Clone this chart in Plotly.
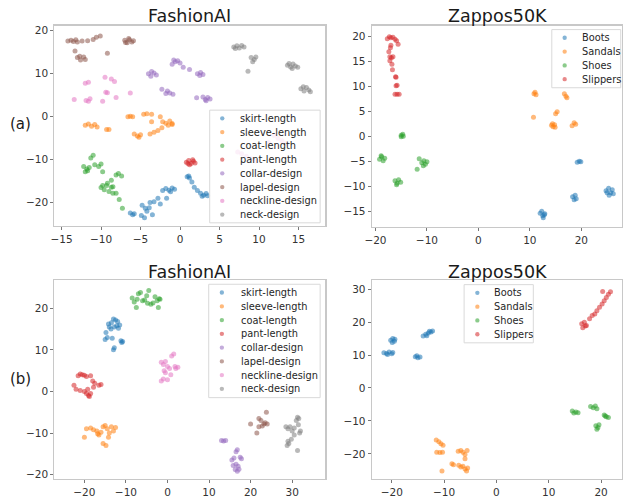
import plotly.graph_objects as go

# ---------------- data ----------------
FASHION_CLASSES = ["skirt-length", "sleeve-length", "coat-length", "pant-length",
                   "collar-design", "lapel-design", "neckline-design", "neck-design"]
ZAPPOS_CLASSES = ["Boots", "Sandals", "Shoes", "Slippers"]

# (a) FashionAI
A_SKIRT = [(-6.3,-22.4),(-6.0,-22.8),(-5.8,-22.6),(-4.8,-20.6),(-4.5,-23.5),(-4.2,-22.0),(-3.9,-21.2),
           (-3.5,-22.8),(-3.8,-20.0),(-3.3,-19.8),(-2.8,-19.0),(-2.5,-20.3),(-2.2,-17.2),(-1.8,-16.7),
           (-1.4,-17.1),(-1.0,-16.6),(-0.7,-16.9),(-1.2,-17.5),(-1.7,-19.0),(-4.9,-23.0),(-4.4,-21.3),
           (0.9,-14.0),(1.2,-14.3),(1.1,-13.8),(1.5,-15.2),(1.8,-16.4),(2.2,-17.2),(2.6,-17.8),
           (3.0,-18.3),(3.3,-17.9),(2.8,-18.5),(3.5,-18.4)]
A_SLEEVE = [(-12.0,-2.0),(-11.6,-1.7),(-11.2,-2.2),(-10.8,-1.8),(-10.5,-2.4),(-9.3,-3.0),(-9.0,-3.0),
            (-6.6,0.0),(-6.3,0.1),(-6.0,0.0),(-4.6,0.6),(-4.2,0.7),(-3.6,0.6),(-2.5,0.0),(-3.6,-1.2),
            (-2.2,-1.2),(-1.8,-1.5),(-1.3,-1.0),(-1.0,-1.8),(-1.5,-2.0),(-5.8,-4.0),(-5.4,-4.5),
            (-5.0,-4.2),(-5.2,-4.8),(-3.8,-4.0),(-3.3,-3.6),(-2.8,-3.2),(-2.3,-2.6),(-1.0,-1.6)]
A_COAT = [(-11.0,-9.0),(-11.3,-9.6),(-12.2,-11.6),(-11.8,-12.2),(-12.0,-12.8),(-11.5,-11.8),(-11.7,-12.6),
          (-10.8,-11.2),(-10.3,-11.6),(-10.0,-11.0),(-9.8,-12.8),(-10.0,-16.5),(-9.6,-17.0),(-9.3,-16.0),
          (-9.0,-17.4),(-8.7,-16.4),(-9.8,-16.0),(-8.5,-17.8),(-9.2,-15.5),(-8.7,-14.8),(-8.1,-13.6),
          (-7.8,-13.2),(-7.4,-13.8),(-8.5,-16.3),(-8.1,-17.8),(-7.7,-19.3),(-7.3,-21.3)]
A_PANT = [(0.8,-10.6),(1.1,-10.2),(1.4,-10.9),(1.7,-10.4),(1.2,-11.2),(1.6,-10.0),(1.9,-10.8),(1.0,-10.9)]
A_COLLAR = [(-1.0,12.2),(-0.6,12.8),(-0.3,13.0),(0.0,12.5),(-0.8,13.2),(0.4,11.5),(1.2,11.0),
            (2.2,10.0),(2.6,10.3),(2.9,9.8),(2.5,9.6),(-4.0,10.0),(-3.7,9.4),(-3.3,10.2),(-3.0,9.7),
            (-3.6,10.5),(-2.3,6.4),(-1.6,6.0),(-1.3,5.5),(-0.9,5.2),(-1.8,5.4),(2.1,4.4),(2.9,4.6),
            (3.2,4.0),(3.5,4.5),(3.8,4.1),(3.3,3.7)]
A_LAPEL = [(-14.2,17.6),(-13.8,17.8),(-13.5,17.5),(-13.2,17.9),(-13.0,17.4),(-12.4,17.6),(-11.7,17.7),
           (-10.6,18.5),(-10.1,18.8),(-11.0,18.0),(-13.3,15.3),(-13.0,13.8),(-12.6,13.2),(-12.2,13.9),
           (-12.0,13.3),(-12.7,14.1),(-9.2,14.8),(-7.0,17.8),(-6.7,17.2),(-6.4,17.9),(-6.1,17.4),
           (-5.9,17.7),(-6.5,18.2),(-6.9,17.3)]
A_NECKLINE = [(-12.0,7.8),(-11.6,8.0),(-9.5,9.2),(-8.7,8.8),(-8.3,8.2),(-9.4,5.7),(-9.2,5.6),(-13.4,4.0),
              (-11.9,3.8),(-11.4,4.2),(-11.6,3.6),(-9.8,3.6),(-8.1,4.5),(-6.3,5.5),
              (7.3,-8.2),(7.8,-8.6),(8.4,-9.2),(9.0,-9.8),(9.6,-10.3),(11.9,-4.4),(12.4,-5.0),
              (12.9,-5.6),(13.4,-6.3),(11.2,-6.0)]
A_NECK = [(6.8,16.2),(7.2,16.5),(7.5,16.0),(7.8,16.6),(8.1,16.2),(7.0,15.9),(9.0,13.8),(9.4,13.3),
          (9.6,13.9),(9.2,12.8),(8.6,10.6),(13.6,12.0),(14.0,11.6),(14.3,12.3),(14.6,11.8),(14.9,11.5),
          (14.2,11.2),(13.8,12.4),(15.3,6.5),(15.7,6.0),(16.0,6.8),(16.3,6.2),(15.6,7.0),(16.5,5.8)]

# (a) Zappos50K
B_BOOTS = [(19.2,-5.1),(19.6,-4.9),(19.9,-5.0),(18.3,-12.0),(18.8,-11.7),(19.0,-12.4),(18.6,-12.6),
           (24.8,-10.8),(25.3,-10.3),(25.7,-11.2),(26.0,-10.6),(25.4,-11.7),(26.2,-11.4),(25.0,-11.2),
           (12.0,-15.3),(12.5,-15.8),(12.9,-15.4),(12.6,-16.2),(12.3,-14.9),(12.8,-15.6)]
B_SANDALS = [(10.8,8.6),(11.2,8.4),(11.0,8.9),(10.7,3.9),(16.7,8.6),(17.0,8.1),(17.2,7.8),(15.0,4.6),
             (15.3,5.0),(14.2,2.3),(14.5,2.0),(14.8,2.4),(14.9,1.9),(14.4,2.6),(18.2,2.2),(18.6,2.8),(18.9,2.5)]
B_SHOES = [(-15.0,0.3),(-14.7,0.5),(-14.6,0.1),(-15.0,0.0),(-19.2,-4.5),(-18.8,-4.0),(-18.5,-4.8),
           (-18.2,-4.3),(-18.9,-3.8),(-11.0,-5.2),(-10.6,-4.8),(-10.3,-5.5),(-10.0,-5.0),(-10.7,-5.8),
           (-11.9,-6.5),(-11.5,-4.4),(-16.2,-8.8),(-15.8,-9.3),(-15.5,-8.6),(-15.9,-9.6),(-15.1,-9.1)]
B_SLIPPERS = [(-17.7,19.6),(-17.3,20.0),(-17.0,19.8),(-16.6,19.9),(-16.2,19.5),(-15.9,19.2),(-15.6,18.5),
              (-17.0,18.3),(-17.1,17.8),(-17.2,16.0),(-16.9,15.8),(-16.6,16.0),(-16.8,14.5),(-16.7,13.4),
              (-16.1,12.0),(-16.0,11.9),(-16.0,10.2),(-15.8,10.3),(-16.2,8.5),(-15.8,8.5),(-15.4,8.5),
              (-17.4,17.0),(-17.2,15.2)]

# (b) FashionAI
C_SKIRT = [(-15.0,12.5),(-14.5,13.0),(-14.8,14.2),(-14.0,15.5),(-13.5,16.5),(-13.0,17.4),(-12.5,17.2),
           (-12.0,16.8),(-11.5,16.0),(-11.8,15.2),(-12.8,15.5),(-13.6,15.0),(-14.2,16.2),(-12.2,15.8),
           (-13.3,12.8),(-11.2,12.2),(-10.8,12.0),(-11.0,11.8),(-13.0,10.0),(-12.8,10.5)]
C_SLEEVE = [(-20.0,-11.0),(-19.5,-9.0),(-18.5,-8.8),(-17.8,-9.2),(-17.0,-9.5),(-16.5,-10.5),(-16.0,-9.8),
            (-15.5,-8.5),(-15.0,-8.2),(-14.5,-9.0),(-14.0,-10.0),(-13.5,-8.5),(-13.0,-9.5),(-12.5,-8.7),
            (-15.5,-12.5),(-14.8,-13.0),(-16.8,-10.2),(-14.2,-11.0)]
C_COAT = [(-8.5,22.5),(-8.0,21.5),(-7.3,22.2),(-7.0,23.5),(-6.5,23.8),(-6.0,21.8),(-5.5,22.0),(-4.8,21.2),
          (-4.5,24.3),(-4.0,21.0),(-3.5,21.3),(-3.0,22.8),(-2.5,21.8),(-2.0,22.3),(-2.2,20.2),(-7.5,20.2),
          (-5.0,23.0),(-1.8,22.2)]
C_PANT = [(-22.5,1.5),(-22.0,0.5),(-21.5,3.8),(-21.0,4.2),(-20.5,4.0),(-20.0,3.9),(-19.5,3.6),(-18.5,3.8),
          (-21.0,0.2),(-20.0,0.0),(-19.5,-0.5),(-19.0,-1.0),(-18.5,-0.5),(-19.2,0.5),(-18.8,-1.2),
          (-17.8,1.0),(-17.5,2.0),(-16.5,1.5),(-16.0,1.7),(-18.0,2.5)]
C_COLLAR = [(13.0,-11.8),(13.5,-11.9),(14.0,-11.8),(16.5,-14.5),(16.8,-14.0),(15.5,-16.5),(16.0,-16.0),
            (17.5,-15.8),(17.8,-16.2),(16.5,-17.5),(17.0,-18.0),(16.3,-18.8),(16.8,-19.2),(17.2,-18.7),(15.8,-17.8)]
C_LAPEL = [(20.0,-7.8),(21.5,-10.0),(22.0,-6.5),(22.5,-7.0),(22.8,-8.3),(22.0,-8.5),(23.5,-7.5),
           (23.8,-5.0),(24.0,-7.8),(23.2,-7.8)]
C_NECKLINE = [(-1.5,7.0),(-1.0,6.5),(-0.5,7.2),(0.0,6.0),(0.5,5.5),(1.0,8.5),(1.5,9.0),(2.0,5.5),(2.5,5.8),
              (-0.5,4.5),(-1.0,3.0),(-1.5,2.5),(0.0,2.8),(-0.8,5.0),(0.8,4.0),(1.8,6.0)]
C_NECK = [(28.5,-8.5),(29.0,-9.0),(29.5,-8.5),(30.0,-9.5),(30.5,-8.8),(31.0,-7.0),(31.3,-6.2),(31.5,-8.0),
          (31.8,-10.0),(32.0,-9.5),(30.5,-10.5),(29.8,-11.5),(29.0,-12.0),(28.8,-13.0),(29.2,-12.5),
          (31.3,-14.2),(31.6,-6.5)]

# (b) Zappos50K
D_BOOTS = [(-20.2,14.5),(-19.8,15.0),(-19.5,14.2),(-19.9,13.8),(-19.4,14.8),(-21.5,10.7),(-21.0,10.5),
           (-20.5,10.9),(-20.0,10.4),(-19.8,10.8),(-20.8,10.2),(-15.5,9.5),(-15.0,9.2),(-14.6,9.4),
           (-15.2,9.8),(-14.0,15.8),(-13.5,16.3),(-13.0,16.7),(-12.5,17.0),(-12.2,17.3),(-12.8,17.2),(-13.3,15.9)]
D_SANDALS = [(-11.5,-15.8),(-11.0,-16.3),(-10.6,-16.9),(-10.2,-17.4),(-11.4,-19.5),(-10.8,-19.6),
             (-10.3,-19.5),(-10.4,-25.2),(-8.5,-23.0),(-8.2,-23.3),(-7.3,-19.2),(-6.8,-19.0),(-6.4,-19.5),
             (-6.0,-20.2),(-5.6,-19.0),(-6.0,-21.5),(-7.2,-23.5),(-6.8,-24.0),(-6.4,-23.8),(-6.0,-24.6),
             (-5.7,-25.2),(-5.5,-24.3)]
D_SHOES = [(14.5,-7.0),(14.8,-7.6),(15.2,-7.3),(15.6,-7.5),(18.0,-5.6),(18.5,-6.0),(18.9,-5.5),(19.2,-6.3),
           (20.6,-8.2),(21.0,-8.7),(21.4,-9.0),(20.8,-8.5),(19.0,-11.5),(19.4,-12.0),(19.6,-11.2),(19.2,-12.5)]
D_SLIPPERS = [(16.3,19.5),(16.8,20.0),(17.0,18.8),(17.2,19.0),(17.8,21.0),(18.3,22.0),(18.8,22.5),
              (19.2,23.5),(19.7,24.5),(20.2,25.5),(20.6,26.5),(21.0,27.5),(21.4,28.5),(21.8,29.2),
              (20.3,29.3),(16.5,18.3)]

COLORS = ["#1f77b4", "#ff7f0e", "#2ca02c", "#d62728", "#9467bd", "#8c564b", "#e377c2", "#7f7f7f"]

W, H = 623, 498
FONT = "DejaVu Sans"

# legend boxes (pixel layout): left, top, right, bottom, first-row y, row step, marker x, text x
PANELS = [
    dict(series=[A_SKIRT, A_SLEEVE, A_COAT, A_PANT, A_COLLAR, A_LAPEL, A_NECKLINE, A_NECK],
         names=FASHION_CLASSES, box=(205, 110.7, 316.7, 225), row0=119, step=13.95, mx=217.7, tx=234),
    dict(series=[B_BOOTS, B_SANDALS, B_SHOES, B_SLIPPERS], names=ZAPPOS_CLASSES,
         box=(551, 29, 620.7, 88), row0=37.3, step=14, mx=564, tx=580),
    dict(series=[C_SKIRT, C_SLEEVE, C_COAT, C_PANT, C_COLLAR, C_LAPEL, C_NECKLINE, C_NECK],
         names=FASHION_CLASSES, box=(204, 287.3, 316.7, 402.3), row0=295.7, step=13.95, mx=217.3, tx=234.5),
    dict(series=[D_BOOTS, D_SANDALS, D_SHOES, D_SLIPPERS], names=ZAPPOS_CLASSES,
         box=(462.3, 287.7, 532.3, 346.7), row0=296, step=14, mx=475.7, tx=491),
]

fig = go.Figure()

for i, p in enumerate(PANELS):
    ax = "" if i == 0 else str(i + 1)
    for k, (pts, name) in enumerate(zip(p["series"], p["names"])):
        fig.add_trace(go.Scatter(
            x=[q[0] for q in pts], y=[q[1] for q in pts], mode="markers", name=name,
            xaxis="x" + ax, yaxis="y" + ax, showlegend=False,
            marker=dict(color=COLORS[k], size=5, opacity=0.55, line=dict(width=0)),
        ))

def px_x(a, b):
    return [a / W, b / W]

def px_y(top, bottom):
    return [1 - bottom / H, 1 - top / H]

axis_common = dict(showline=True, mirror=True, linecolor="#c8c8c8", linewidth=1.2,
                   ticks="outside", ticklen=3, tickcolor="#555", tickwidth=0.8,
                   showgrid=False, zeroline=False,
                   tickfont=dict(family=FONT, size=10.5, color="#333"))

specs = [
    (px_x(48, 322), px_y(25, 228), [-15.9, 18.4], [-25.4, 21.2], 5, 10),
    (px_x(369, 622), px_y(25, 229), [-20.7, 27.9], [-18.0, 22.2], 10, 5),
    (px_x(48, 322), px_y(283, 485), [-27.2, 38.0], [-21.1, 26.8], 10, 10),
    (px_x(369, 622), px_y(283, 485), [-23.8, 24.0], [-27.7, 32.8], 10, 10),
]
lay = {}
for i, (xd, yd, xr, yr, dx, dy) in enumerate(specs):
    s = "" if i == 0 else str(i + 1)
    lay["xaxis" + s] = dict(domain=xd, range=xr, dtick=dx, anchor="y" + s, **axis_common)
    lay["yaxis" + s] = dict(domain=yd, range=yr, dtick=dy, anchor="x" + s, **axis_common)

shapes = []
anns = []
for p in PANELS:
    l, t, r, b = p["box"]
    shapes.append(dict(type="rect", xref="paper", yref="paper", layer="above",
                       x0=l / W, x1=r / W, y0=1 - b / H, y1=1 - t / H,
                       line=dict(color="#d9d9d9", width=1), fillcolor="rgba(255,255,255,0.8)"))
    for k, name in enumerate(p["names"]):
        cy = p["row0"] + k * p["step"]
        rad = 2.2
        shapes.append(dict(type="circle", xref="paper", yref="paper", layer="above",
                           x0=(p["mx"] - rad) / W, x1=(p["mx"] + rad) / W,
                           y0=1 - (cy + rad) / H, y1=1 - (cy - rad) / H,
                           line=dict(width=0), fillcolor=COLORS[k], opacity=0.55))
        anns.append(dict(text=name, x=p["tx"] / W, y=1 - cy / H, xref="paper", yref="paper",
                         showarrow=False, xanchor="left", yanchor="middle",
                         font=dict(family=FONT, size=9.8, color="#262626")))

for txt, cx, cy in [("FashionAI", 185, 15), ("Zappos50K", 496, 15),
                    ("FashionAI", 185, 275), ("Zappos50K", 496, 275)]:
    anns.append(dict(text=txt, x=cx / W, y=1 - cy / H, xref="paper", yref="paper",
                     showarrow=False, xanchor="center", yanchor="middle",
                     font=dict(family=FONT, size=17.5, color="#1a1a1a")))
for txt, cx, cy in [("(a)", 14, 125), ("(b)", 14, 383)]:
    anns.append(dict(text=txt, x=cx / W, y=1 - cy / H, xref="paper", yref="paper",
                     showarrow=False, xanchor="center", yanchor="middle",
                     font=dict(family=FONT, size=15, color="#1a1a1a")))

fig.update_layout(width=W, height=H, margin=dict(l=0, r=0, t=0, b=0),
                  paper_bgcolor="white", plot_bgcolor="white", showlegend=False,
                  hovermode=False, annotations=anns, shapes=shapes, **lay)

fig.write_html("out.html", config={"displayModeBar": False, "staticPlot": True},
               post_script="document.body.style.margin='0px';document.body.style.overflow='hidden';")
